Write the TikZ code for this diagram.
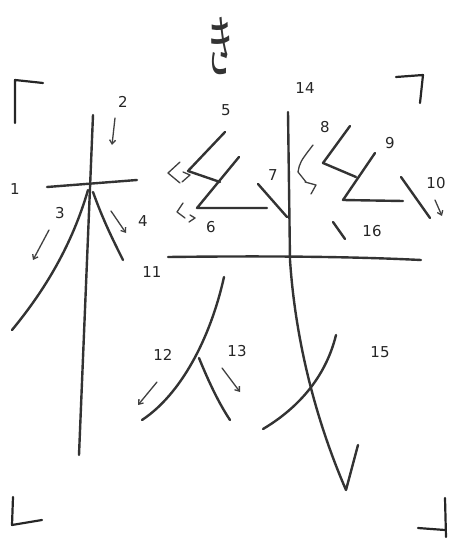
\documentclass[tikz,border=0pt]{standalone}
\usepackage{fontspec}
\newfontfamily\cjk{Noto Sans CJK JP}
\newfontfamily\hand{DejaVu Sans}
\usetikzlibrary{positioning,arrows.meta}

\begin{document}
\begin{tikzpicture}[
            x=1pt, y=-1pt,
            stroke/.style={draw=black!80, line width=2.4pt, line cap=round, line join=round},
            frame/.style={draw=black!85, line width=2.2pt, line cap=round, line join=round},
            hint/.style={draw=black!75, line width=1.3pt, line cap=round, line join=round},
            hintarrow/.style={hint, -{Straight Barb[length=4pt,width=6pt]}},
            num/.style={text=black!85, font=\hand\fontsize{15}{15}\selectfont, inner sep=0pt}
        ]
        \useasboundingbox (0,0) rectangle (456,540);

        % Corner marks
        \draw[frame] (15,123) -- (15,80) -- (43,83);
        \draw[frame] (396,77) -- (423,75) -- (420,103);
        \draw[frame] (13,497) -- (12,525) -- (42,520);
        \draw[frame] (445,498) -- (446,537);
        \draw[frame] (418,528) -- (445,530);

        % Reading
        \node[font=\cjk\fontsize{40}{40}\selectfont, xscale=0.65, yscale=1.7, text=black!80] (kana) at (220,46) {き};

        % Left radical
        \draw[stroke] (47,187) -- (137,180);
        \draw[stroke] (93,115) -- (79,455);
        \draw[stroke] (88,190) .. controls (72,245) and (45,290) .. (12,330);
        \draw[stroke] (93,192) .. controls (103,220) and (113,240) .. (123,260);

        % Upper right part
        \draw[stroke] (225,132) -- (188,171) -- (220,182);
        \draw[stroke] (239,157) -- (197,208) -- (267,208);
        \draw[stroke] (258,184) -- (287,217);
        \draw[stroke] (350,126) -- (323,163) -- (356,177);
        \draw[stroke] (375,153) -- (343,200) -- (403,201);
        \draw[stroke] (401,177) -- (430,218);
        \draw[stroke] (333,222) -- (345,239);

        % Lower right part
        \draw[stroke] (168,257) .. controls (250,256) and (340,256) .. (421,260);
        \draw[stroke] (224,277) .. controls (210,340) and (180,395) .. (142,420);
        \draw[stroke] (199,358) .. controls (210,385) and (220,405) .. (230,420);
        \draw[stroke] (288,112) -- (290,260) .. controls (296,350) and (320,430) .. (346,490) -- (358,445);
        \draw[stroke] (336,335) .. controls (325,380) and (295,410) .. (263,429);

        % Direction hints
        \draw[hintarrow] (115,118) -- (112,145);
        \draw[hintarrow] (49,230) -- (33,260);
        \draw[hintarrow] (111,211) -- (126,233);
        \draw[hintarrow] (157,382) -- (138,405);
        \draw[hintarrow] (222,368) -- (240,392);
        \draw[hintarrow] (435,200) -- (442,216);
        \draw[hint] (180,162) -- (168,173) -- (180,183);
        \draw[hint] (183,172) -- (190,175) -- (182,182);
        \draw[hint] (183,203) -- (177,212) -- (185,218);
        \draw[hint] (190,215) -- (195,218) -- (189,222);
        \draw[hint] (313,145) .. controls (300,162) .. (298,172) -- (306,182);
        \draw[hint] (305,182) -- (316,185) -- (311,194);

        % Stroke numbers
        \node[num] (n1) at (15,189) {1};
        \node[num] (n2) at (123,102) {2};
        \node[num] (n3) at (60,213) {3};
        \node[num] (n4) at (143,221) {4};
        \node[num] (n5) at (226,110) {5};
        \node[num] (n6) at (211,227) {6};
        \node[num] (n7) at (273,175) {7};
        \node[num] (n8) at (325,127) {8};
        \node[num] (n9) at (390,143) {9};
        \node[num] (n10) at (436,183) {10};
        \node[num] (n11) at (152,272) {11};
        \node[num] (n12) at (163,355) {12};
        \node[num] (n13) at (237,351) {13};
        \node[num] (n14) at (305,88) {14};
        \node[num] (n15) at (380,352) {15};
        \node[num] (n16) at (372,231) {16};
        \end{tikzpicture}
\end{document}
